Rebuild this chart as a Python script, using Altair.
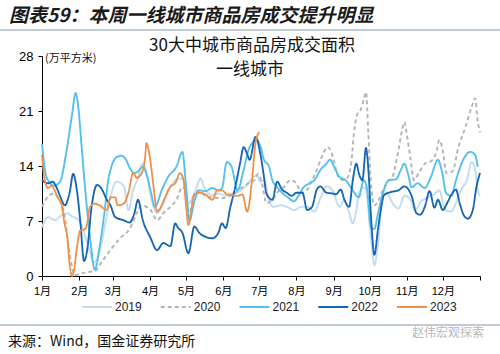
import altair as alt
import pandas as pd

years = ["2019", "2020", "2021", "2022", "2023"]
colors = ["#c3def2", "#b5b5b5", "#55c0ec", "#1766b2", "#ef9048"]

d2019 = [0, 5, 11, 15, 21, 25, 29, 33, 37, 40, 43, 47, 52, 57, 62, 68, 72, 76, 80, 84, 87, 91, 96, 101, 107, 112, 117, 122, 128, 132, 136, 142, 147, 153, 158, 164, 169, 175, 179, 182, 185, 189, 193, 199, 204, 210, 216, 221, 227, 232, 237, 242, 248, 252, 256, 259, 262, 264, 268, 270, 274, 277, 280, 284, 288, 292, 297, 302, 307, 311, 316, 322, 327, 331, 336, 341, 345, 349, 354, 358, 361, 363, 365]
v2019 = [6.2, 7.5, 7.1, 7.6, 8.0, 7.6, 7.3, 6.5, 4.5, 3.0, 1.7, 2.5, 6.0, 10.0, 12.0, 11.5, 8.4, 10.9, 12.5, 14.3, 13.2, 9.9, 8.0, 9.2, 11.3, 12.3, 12.4, 9.3, 10.9, 12.4, 11.0, 10.3, 10.5, 10.2, 10.5, 10.7, 11.3, 12.4, 12.8, 12.0, 12.2, 9.7, 8.8, 9.0, 8.8, 8.4, 8.8, 8.8, 8.2, 9.9, 11.4, 10.9, 8.8, 9.7, 8.0, 6.7, 8.4, 10.4, 11.3, 10.9, 5.0, 1.4, 4.0, 10.4, 10.4, 9.3, 8.6, 10.2, 9.7, 8.4, 9.5, 10.0, 10.4, 10.9, 8.4, 8.2, 9.3, 10.9, 12.2, 14.5, 13.5, 11.0, 10.2]

d2020 = [0, 5, 10, 15, 19, 21, 25, 27, 32, 38, 44, 48, 53, 57, 65, 73, 79, 83, 87, 91, 96, 101, 107, 112, 117, 119, 122, 127, 131, 136, 142, 150, 158, 167, 172, 177, 180, 183, 187, 192, 196, 202, 207, 212, 216, 221, 225, 229, 233, 238, 241, 243, 247, 251, 255, 258, 260, 263, 266, 268, 270, 272, 274, 277, 280, 284, 288, 292, 297, 300, 302, 304, 307, 310, 314, 319, 325, 329, 331, 334, 337, 342, 347, 353, 358, 361, 363, 365]
v2020 = [8.8, 10.1, 10.5, 9.5, 7.5, 5.0, 1.2, 0.1, 0.3, 0.5, 0.6, 1.4, 2.5, 3.3, 4.8, 6.0, 8.0, 9.0, 8.8, 8.3, 7.1, 8.0, 8.8, 9.7, 11.3, 11.0, 7.6, 10.4, 10.9, 10.2, 10.0, 9.9, 10.3, 11.3, 11.8, 12.2, 13.0, 12.0, 9.3, 9.7, 10.6, 11.4, 12.2, 11.8, 10.6, 11.0, 12.2, 13.5, 15.1, 16.4, 15.8, 14.8, 12.6, 12.2, 12.6, 14.8, 18.2, 20.7, 21.3, 22.4, 23.4, 18.0, 12.0, 9.0, 9.5, 10.9, 12.0, 12.6, 16.0, 18.5, 19.6, 18.0, 15.0, 12.2, 13.1, 14.3, 14.7, 16.0, 17.3, 16.0, 13.1, 13.3, 16.4, 19.0, 21.5, 22.6, 19.8, 18.3]

d2021 = [0, 3, 5, 10, 15, 20, 25, 28, 30, 33, 36, 40, 44, 48, 52, 55, 58, 62, 66, 70, 73, 77, 80, 84, 87, 91, 94, 100, 105, 112, 117, 120, 123, 127, 131, 136, 142, 147, 150, 154, 158, 163, 168, 172, 175, 179, 182, 185, 189, 192, 196, 200, 205, 210, 214, 218, 223, 227, 232, 237, 240, 244, 248, 253, 259, 264, 268, 271, 274, 277, 280, 284, 289, 295, 299, 302, 305, 308, 313, 319, 324, 330, 333, 337, 341, 345, 351, 357, 361, 363]
v2021 = [16.8, 13.0, 12.2, 11.5, 12.0, 15.5, 20.5, 23.3, 21.8, 16.5, 11.0, 5.0, 0.8, 3.7, 8.0, 12.0, 14.0, 15.1, 15.3, 14.8, 13.8, 13.1, 13.3, 13.9, 13.0, 10.5, 8.8, 11.0, 12.6, 13.9, 15.8, 11.5, 7.1, 9.5, 10.9, 10.8, 11.2, 10.9, 11.2, 14.5, 13.9, 10.9, 13.5, 16.0, 16.9, 17.3, 16.5, 14.8, 14.0, 12.2, 11.3, 10.6, 10.0, 9.5, 10.3, 11.3, 11.8, 12.2, 13.5, 14.3, 14.8, 13.7, 12.6, 12.2, 10.9, 10.0, 12.2, 11.0, 6.2, 6.0, 8.0, 10.5, 12.2, 12.3, 13.5, 14.3, 13.0, 11.3, 11.8, 11.2, 12.6, 14.8, 13.5, 10.5, 10.2, 12.2, 14.8, 15.8, 15.4, 13.9]

d2022 = [0, 5, 9, 12, 15, 19, 23, 26, 29, 32, 35, 38, 41, 46, 50, 54, 57, 61, 68, 73, 77, 80, 84, 90, 96, 101, 107, 111, 113, 117, 122, 127, 131, 136, 142, 147, 150, 153, 157, 161, 165, 168, 171, 173, 178, 182, 185, 187, 192, 196, 200, 204, 208, 212, 217, 221, 225, 229, 232, 237, 242, 245, 249, 252, 256, 259, 262, 264, 267, 270, 272, 274, 277, 280, 283, 285, 291, 297, 302, 308, 312, 315, 319, 323, 327, 330, 334, 338, 341, 345, 348, 352, 355, 359, 362, 365]
v2022 = [12.2, 11.8, 12.0, 11.3, 10.2, 9.0, 10.6, 13.0, 11.0, 6.8, 1.9, 3.7, 8.4, 11.6, 11.0, 9.7, 9.0, 7.5, 7.1, 6.8, 8.0, 9.7, 7.1, 5.0, 3.3, 4.2, 3.8, 6.7, 6.2, 5.5, 2.9, 6.3, 5.5, 5.0, 4.8, 5.5, 6.7, 6.1, 8.8, 11.3, 14.3, 16.4, 15.5, 14.8, 17.7, 15.5, 12.6, 10.5, 9.7, 12.0, 11.0, 10.6, 10.2, 10.6, 10.6, 8.4, 8.8, 11.0, 11.4, 10.6, 10.5, 10.4, 11.0, 9.7, 8.8, 12.2, 14.3, 13.1, 12.2, 16.3, 13.5, 8.0, 2.7, 6.0, 9.0, 10.3, 10.7, 10.9, 11.4, 10.2, 8.0, 7.8, 8.8, 10.8, 8.7, 9.7, 8.4, 9.4, 10.3, 11.0, 9.3, 7.6, 7.3, 8.4, 11.3, 13.1]

d2023 = [0, 2, 5, 8, 10, 13, 16, 19, 21, 23, 25, 27, 29, 32, 35, 37, 40, 44, 48, 54, 57, 61, 63, 68, 72, 76, 79, 83, 86, 87, 90, 93, 96, 98, 103, 107, 111, 115, 118, 120, 122, 127, 131, 136, 142, 146, 150, 154, 158, 163, 167, 171, 175, 178, 181]
v2023 = [15.4, 12.5, 11.2, 11.5, 11.1, 10.0, 9.3, 6.5, 5.0, 1.5, 0.0, 1.0, 3.5, 5.8, 5.9, 6.3, 8.8, 9.2, 9.0, 8.4, 10.0, 10.0, 9.0, 9.2, 10.6, 13.1, 12.5, 13.1, 15.2, 16.9, 15.0, 11.3, 8.2, 8.5, 10.2, 11.4, 11.8, 13.1, 12.2, 9.0, 6.5, 10.4, 10.6, 10.4, 9.7, 10.9, 10.9, 10.4, 10.3, 10.2, 10.4, 8.2, 12.2, 17.0, 18.3]

month_days = [0, 31, 59, 90, 120, 151, 181, 212, 243, 273, 304, 334, 365]
month_labels = ["1月", "2月", "3月", "4月", "5月", "6月", "7月", "8月", "9月", "10月", "11月", "12月", ""]
y_ticks = [0, 7, 14, 21, 28]

series = {"2019": (d2019, v2019), "2020": (d2020, v2020), "2021": (d2021, v2021),
          "2022": (d2022, v2022), "2023": (d2023, v2023)}
rows = []
for yr in years:
    ds, vs = series[yr]
    for d, v in zip(ds, vs):
        rows.append({"year": yr, "day": d, "value": v})
df = pd.DataFrame(rows)

label_expr = "[" + ",".join("'%s'" % s for s in month_labels) + "][indexof([" + ",".join(str(d) for d in month_days) + "], datum.value)]"

CJK = "Noto Sans CJK SC"
LAT = "Liberation Sans, Noto Sans CJK SC"

color_scale = alt.Scale(domain=years, range=colors)
dash_scale = alt.Scale(domain=years, range=[[1, 0], [4, 3], [1, 0], [1, 0], [1, 0]])

lines = alt.Chart(df).mark_line(interpolate="monotone").encode(
    x=alt.X("day:Q", scale=alt.Scale(domain=[0, 365], nice=False, zero=False),
            axis=alt.Axis(values=month_days, labelExpr=label_expr, title=None, grid=False,
                          tickSize=4, domainColor="black", tickColor="black",
                          labelFontSize=11, labelFont=LAT, labelColor="black",
                          labelPadding=5, labelAngle=0, labelFlush=False, labelOverlap=False)),
    y=alt.Y("value:Q", scale=alt.Scale(domain=[0, 28], nice=False),
            axis=alt.Axis(values=y_ticks, title=None, grid=False, tickSize=4,
                          domainColor="black", tickColor="black", labelFontSize=13,
                          labelFont=LAT, labelColor="black", labelPadding=5)),
    color=alt.Color("year:N", scale=color_scale, legend=None),
    strokeDash=alt.StrokeDash("year:N", scale=dash_scale, legend=None),
    strokeWidth=alt.StrokeWidth("year:N", scale=alt.Scale(domain=years, range=[2, 1.8, 2.2, 2.5, 2.2]), legend=None),
)

# manual legend (single row)
leg_df = pd.DataFrame({"year": years})
leg_x = alt.X("year:N", scale=alt.Scale(type="point", domain=years, range=[55, 370], padding=0), axis=None)
leg_sym = alt.Chart(leg_df).mark_point(shape="M-1,0L1,0", size=900, filled=False, strokeWidth=2, opacity=1).encode(
    x=leg_x, y=alt.value(251),
    color=alt.Color("year:N", scale=color_scale, legend=None),
    strokeDash=alt.StrokeDash("year:N", scale=dash_scale, legend=None),
)
leg_txt = alt.Chart(leg_df).mark_text(align="left", baseline="middle", dx=18, font=LAT, fontSize=12,
                                      color="#222222").encode(x=leg_x, y=alt.value(251), text="year:N")

one = pd.DataFrame({"t": ["x"]})

def txt(s, x, y, size, font=CJK, align="left", weight="normal", style="normal", color="#111111"):
    return alt.Chart(pd.DataFrame({"t": [s]})).mark_text(
        align=align, baseline="middle", font=font, fontSize=size, fontWeight=weight,
        fontStyle=style, color=color).encode(x=alt.value(x), y=alt.value(y), text="t:N")

def hrule(y):
    return alt.Chart(one).mark_rule(color="#7f98aa", strokeWidth=1).encode(
        x=alt.value(-42), x2=alt.value(458), y=alt.value(y))

main_title = txt("图表59：本周一线城市商品房成交提升明显", -33, -40, 19, weight="bold", style="italic", color="#1a1a1a")
t1 = txt("30大中城市商品房成交面积", 210, -10, 17, align="center")
t2 = txt("一线城市", 208, 14, 17, align="center")
unit = txt("(万平方米)", 3, 3, 11)
source = txt("来源：Wind，国金证券研究所", -34, 286, 14)
mark = txt("赵伟宏观探索", 370, 277, 12, color="#b8b8b8")

main = alt.layer(lines, leg_sym, leg_txt).resolve_scale(x="independent")

chart = alt.layer(hrule(-26), hrule(269), main_title, t1, t2, unit, source, mark, main).properties(
    width=438, height=220,
    padding={"left": 42, "top": 56, "right": 20, "bottom": 78},
    autosize=alt.AutoSizeParams(type="none"),
    background="white",
).configure_view(stroke=None)

chart.save("out.html", embed_options={"renderer": "svg", "actions": False})
